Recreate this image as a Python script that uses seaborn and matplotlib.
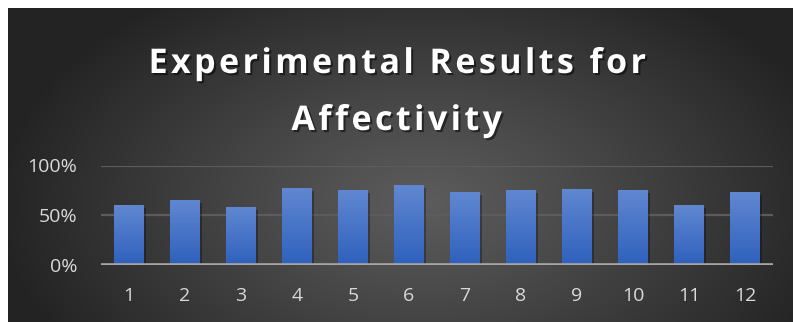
import matplotlib
matplotlib.use("Agg")
import matplotlib.pyplot as plt
import matplotlib.patheffects as pe
from matplotlib.ticker import PercentFormatter
import numpy as np
import seaborn as sns
import pandas as pd

sns.set_style("dark")
plt.rcParams['font.family'] = ['Open Sans', 'DejaVu Sans']

# data
categories = ["1", "2", "3", "4", "5", "6", "7", "8", "9", "10", "11", "12"]
values = [0.60, 0.65, 0.58, 0.77, 0.75, 0.80, 0.73, 0.75, 0.76, 0.75, 0.60, 0.73]
title_lines = ["Experimental Results for", "Affectivity"]

df = pd.DataFrame({"run": categories, "score": values})

W, H = 793, 322
fig = plt.figure(figsize=(W / 100, H / 100), dpi=100, facecolor="white")

# dark radial background
bg = fig.add_axes([8 / W, 0, 1 - 8 / W, 1 - 8 / H], zorder=-10)
yy, xx = np.mgrid[0:H, 0:W]
d = np.sqrt(((xx - 420) / 430.0) ** 2 + ((yy - 200) / 260.0) ** 2)
d = np.clip(d, 0, 1)
light, dark = 0.36, 0.14
g = light + (dark - light) * d ** 1.1
bg.imshow(np.dstack([g, g, g]), aspect="auto", extent=(0, 1, 0, 1))
bg.set_axis_off()

ax = fig.add_axes([101 / W, (H - 265) / H, 672 / W, 99.5 / H])
ax.patch.set_alpha(0)

sns.barplot(data=df, x="run", y="score", order=categories, width=0.52,
            color="#4472c4", saturation=1, linewidth=0, ax=ax, zorder=3)

# vertical blue gradient on each bar
grad = np.linspace(0, 1, 256).reshape(-1, 1)
top = np.array([0.38, 0.53, 0.82])
bot = np.array([0.18, 0.38, 0.74])
cols = top + (bot - top) * grad[:, :, None]
for p in ax.patches:
    x0, y0 = p.get_x(), p.get_y()
    w, h = p.get_width(), p.get_height()
    p.set_edgecolor("none")
    p.set_path_effects([pe.SimplePatchShadow(offset=(2, -2), shadow_rgbFace="black", alpha=0.3),
                        pe.Normal()])
    im = ax.imshow(cols, extent=(x0, x0 + w, y0, y0 + h), aspect="auto", zorder=4)
    im.set_clip_path(p)

ax.set_xlim(-0.5, 11.5)
ax.set_ylim(0, 1)
ax.set_yticks([0, 0.5, 1.0])
ax.yaxis.set_major_formatter(PercentFormatter(1.0, decimals=0))
ax.grid(axis="y", color="#5c5c5c", linewidth=1.6, zorder=0)
ax.grid(axis="x", visible=False)
for s in ax.spines.values():
    s.set_visible(False)
ax.axhline(0, color="#a6a6a6", linewidth=2.6, zorder=5)

ax.tick_params(axis="both", length=0, colors="#d9d9d9", labelsize=14)
ax.tick_params(axis="y", pad=17)
ax.tick_params(axis="x", pad=16)
ax.set_xlabel("")
ax.set_ylabel("")

# title with a little letter spacing (hair spaces)
shadow = [pe.withSimplePatchShadow(offset=(1.5, -1.5), shadow_rgbFace="black", alpha=0.5)]
for line, yc in zip(title_lines, [64, 121]):
    spaced = "\u200a".join(line)
    fig.text(0.5, 1 - yc / H, spaced, ha="center", va="center", color="white",
             fontsize=24.5, fontweight="bold", path_effects=shadow)

fig.savefig("out.png", dpi=100, facecolor="white")
